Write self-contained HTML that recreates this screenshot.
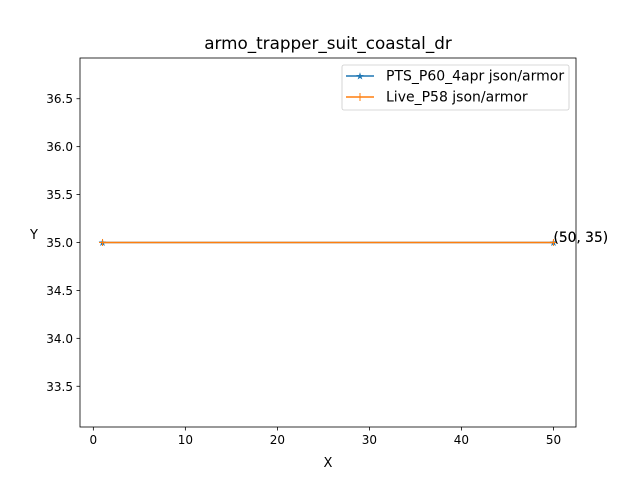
<!DOCTYPE html>
<html><head><meta charset="utf-8"><style>
body{margin:0;background:#fff}
svg{display:block;font-family:"DejaVu Sans","Liberation Sans",sans-serif}
</style></head><body>
<svg id="chart" width="640" height="480" xmlns="http://www.w3.org/2000/svg">
<rect width="640" height="480" fill="#fff"/>
<text x="328" y="49" font-size="16.8" text-anchor="middle">armo_trapper_suit_coastal_dr</text>
<text x="328" y="467" font-size="13" text-anchor="middle">X</text>
<text x="34" y="239" font-size="13" text-anchor="middle">Y</text>
<g id="ticks"></g>
<g id="series"></g>
<rect x="80" y="58" width="496" height="369" fill="none" stroke="#000" stroke-width="0.8"/>
<g>
<rect x="342" y="65" width="227" height="45" rx="2" fill="#fff" stroke="#ccc" stroke-width="0.8"/>
<g>
<line x1="346" y1="76" x2="374" y2="76" stroke="#1f77b4" stroke-width="1.5"/>
<text x="360" y="79.5" font-size="10" fill="#1f77b4" text-anchor="middle">★</text>
<text x="386" y="80.5" font-size="14">PTS_P60_4apr json/armor</text>
</g>
<g>
<line x1="346" y1="97" x2="374" y2="97" stroke="#ff7f0e" stroke-width="1.5"/>
<line x1="360" y1="93" x2="360" y2="101" stroke="#ff7f0e" stroke-width="1"/>
<text x="386" y="101.5" font-size="14">Live_P58 json/armor</text>
</g>
</g>
</svg>
<script>
const xTicks=[0,10,20,30,40,50];
const yTicks=[33.5,34.0,34.5,35.0,35.5,36.0,36.5];
const ptsX=[1,50];
const ptsY=[35,35];
const liveX=[1,50];
const liveY=[35,35];
const annotations=[[50,35],[50,35]];
const xMin=-1.45,xMax=52.45,yMin=33.075,yMax=36.925;
const L=80,R=576,T=58,B=427;
const sx=v=>L+(v-xMin)/(xMax-xMin)*(R-L);
const sy=v=>B-(v-yMin)/(yMax-yMin)*(B-T);
const NS="http://www.w3.org/2000/svg";
function mk(tag,attrs,parent){const e=document.createElementNS(NS,tag);for(const k in attrs)e.setAttribute(k,attrs[k]);parent.appendChild(e);return e;}
const tg=document.getElementById('ticks'),sg=document.getElementById('series');
xTicks.forEach(t=>{const x=sx(t);
const l=mk('line',{x1:x,y1:B,x2:x,y2:B+3.5,stroke:'#000','stroke-width':0.8},tg);


const s=mk('text',{x:x,y:B+17,'font-size':12,'text-anchor':'middle'},tg);s.textContent=t;

});
yTicks.forEach(t=>{const y=sy(t);
const l=mk('line',{x1:L-3.5,y1:y,x2:L,y2:y,stroke:'#000','stroke-width':0.8},tg);


const s=mk('text',{x:L-7,y:y+4.5,'font-size':12,'text-anchor':'end'},tg);s.textContent=t.toFixed(1);

});
function series(xs,ys,color,name,marker){
const p=mk('polyline',{points:xs.map((x,i)=>sx(x)+','+sy(ys[i])).join(' '),fill:'none',stroke:color,'stroke-width':1.5},sg);


xs.forEach((x,i)=>{let m;
if(marker==='star'){m=mk('text',{x:sx(x),y:sy(ys[i])+3.5,'font-size':10,fill:color,'text-anchor':'middle'},sg);m.textContent='★';}
else{m=mk('path',{d:`M${sx(x)-3.5},${sy(ys[i])}h7M${sx(x)},${sy(ys[i])-3.5}v7`,stroke:color,'stroke-width':1},sg);}

});}
series(ptsX,ptsY,'#1f77b4','pts-series','star');
series(liveX,liveY,'#ff7f0e','live-series','plus');
annotations.forEach(a=>{const t=mk('text',{x:sx(a[0]),y:sy(a[1])-0.5,'font-size':13.8},sg);t.textContent=`(${a[0]}, ${a[1]})`;

});
</script>
</body></html>
